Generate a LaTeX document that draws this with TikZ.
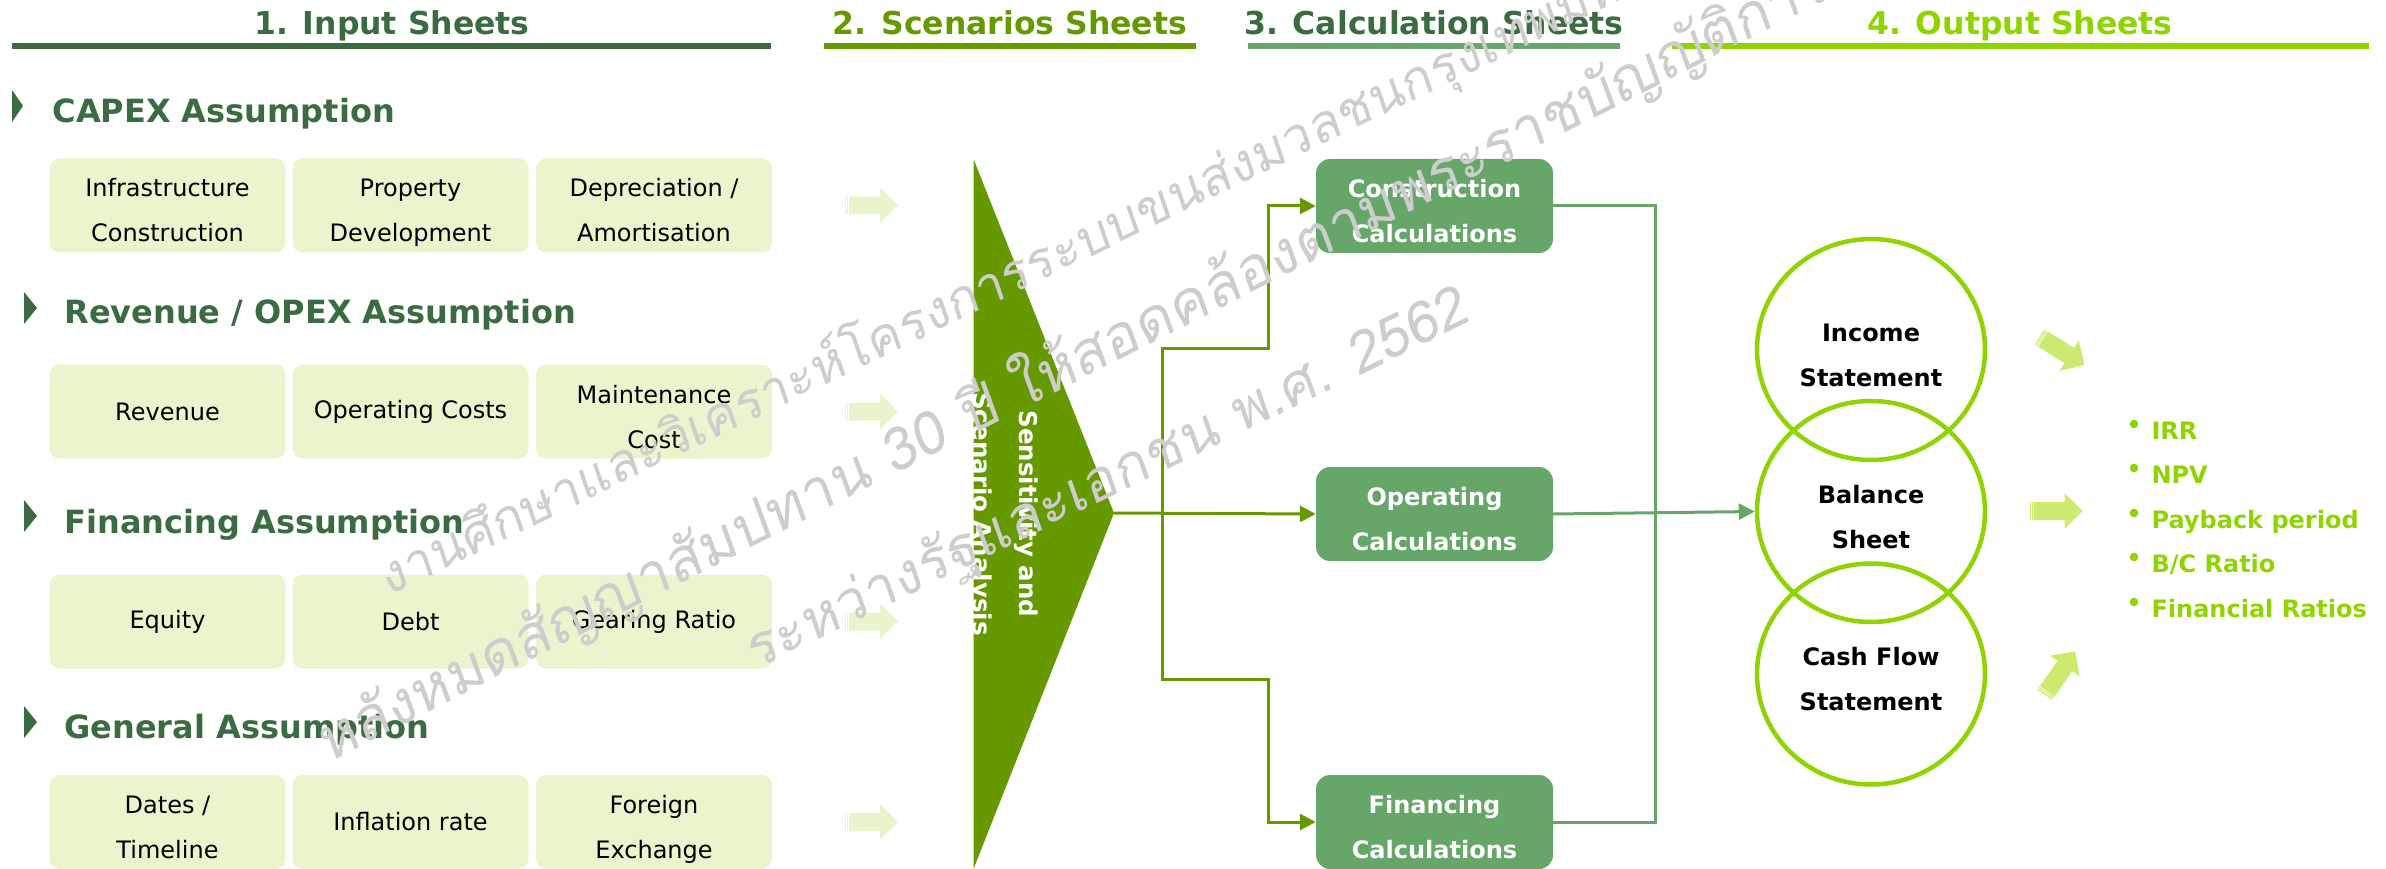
\documentclass[tikz,border=0pt]{standalone}
\usepackage{fontspec}
\setmainfont{DejaVu Sans}
\newfontfamily\thaifont{Loma}[Script=Thai,FakeSlant=0.12]
\usepackage{xcolor}
\usetikzlibrary{shapes.geometric,arrows.meta}

\definecolor{inputgreen}{HTML}{3B6B40}
\definecolor{scenegreen}{HTML}{669900}
\definecolor{calcgreen}{HTML}{66A769}
\definecolor{outgreen}{HTML}{8FD400}
\definecolor{boxfill}{HTML}{EBF5CD}
\definecolor{arrowlite}{HTML}{E8F4CB}
\definecolor{arrowbright}{HTML}{CCEA70}
\definecolor{wmgray}{HTML}{CDCDCD}

\begin{document}
\begin{tikzpicture}[x=1pt, y=-1pt,
    heading/.style={anchor=base, font=\bfseries\fontsize{31.5}{36}\selectfont},
    sectionhead/.style={anchor=base west, text=inputgreen, font=\bfseries\fontsize{32}{36}\selectfont},
    inputbox/.style={fill=boxfill, rounded corners=10pt, minimum width=236pt, minimum height=94pt, align=center, font=\fontsize{24}{45}\selectfont},
    twoline/.style={text height=73pt, text depth=0pt},
    calcbox/.style={fill=calcgreen, rounded corners=14pt, minimum width=237pt, minimum height=94pt, align=center, text=white, font=\bfseries\fontsize{24}{45}\selectfont, twoline},
    outputring/.style={ellipse, draw=outgreen, line width=4.5pt, minimum width=228pt, minimum height=221pt, align=center, font=\bfseries\fontsize{24}{45}\selectfont, twoline},
    bullettext/.style={anchor=base west, text=outgreen, font=\bfseries\fontsize{24}{30}\selectfont},
    scenline/.style={draw=scenegreen, line width=3pt},
    calcline/.style={draw=calcgreen, line width=3pt},
    watermark/.style={anchor=base west, text=wmgray, font=\thaifont\fontsize{#1}{60}\selectfont},
    pics/blockarrow/.style={code={
        \fill[#1] (-26.5,-9) rectangle (-25.4,9);
        \fill[#1] (-24.4,-9) rectangle (-23.3,9);
        \fill[#1] (-22.3,-9) -- (8.5,-9) -- (8.5,-18) -- (26.5,0) -- (8.5,18) -- (8.5,9) -- (-22.3,9) -- cycle;
    }}]
    \useasboundingbox (0,0) rectangle (2386,869);

    \node[heading, text=inputgreen] (inputhead) at (392,35) {1. Input Sheets};
    \node[heading, text=scenegreen] (scenhead) at (1010,35) {2. Scenarios Sheets};
    \node[heading, text=inputgreen] (calchead) at (1434,35) {3. Calculation Sheets};
    \node[heading, text=outgreen] (outhead) at (2020,35) {4. Output Sheets};
    \draw[inputgreen, line width=6pt] (12,46) -- (771,46);
    \draw[scenegreen, line width=6pt] (824,46) -- (1196,46);
    \draw[calcgreen, line width=6pt] (1248,46) -- (1620,46);
    \draw[outgreen, line width=6pt] (1672,46) -- (2369,46);

    \fill[inputgreen] (12,90) -- (23,106) -- (12,122) -- cycle;
    \node[sectionhead] (capex) at (49,123) {CAPEX Assumption};
    \fill[inputgreen] (24,292) -- (37,308) -- (24,324) -- cycle;
    \node[sectionhead] (revenue) at (61,323) {Revenue / OPEX Assumption};
    \fill[inputgreen] (24,500) -- (37,516) -- (24,532) -- cycle;
    \node[sectionhead] (financing) at (61,533) {Financing Assumption};
    \fill[inputgreen] (24,706) -- (37,722) -- (24,738) -- cycle;
    \node[sectionhead] (general) at (61,738) {General Assumption};

    \node[inputbox, twoline] (infra) at (167.5,205.5) {Infrastructure\\Construction};
    \node[inputbox, twoline] (property) at (410.5,205.5) {Property\\Development};
    \node[inputbox, twoline] (deprec) at (654,205.5) {Depreciation /\\Amortisation};
    \node[inputbox] (rev) at (167.5,411.5) {Revenue};
    \node[inputbox] (opcost) at (410.5,411.5) {Operating Costs};
    \node[inputbox, twoline] (maint) at (654,411.5) {Maintenance\\Cost};
    \node[inputbox] (equity) at (167.5,621.5) {Equity};
    \node[inputbox] (debt) at (410.5,621.5) {Debt};
    \node[inputbox] (gearing) at (654,621.5) {Gearing Ratio};
    \node[inputbox, twoline] (dates) at (167.5,822) {Dates /\\Timeline};
    \node[inputbox] (inflation) at (410.5,822) {Inflation rate};
    \node[inputbox, twoline] (forex) at (654,822) {Foreign\\Exchange};

    \pic at (871.5,205.5) {blockarrow=arrowlite};
    \pic at (871.5,411.5) {blockarrow=arrowlite};
    \pic at (871.5,621.5) {blockarrow=arrowlite};
    \pic at (871.5,822) {blockarrow=arrowlite};

    \coordinate (scen) at (1114,513);
    \fill[scenegreen] (973.5,159) -- (scen) -- (973.5,869) -- cycle;
    \node[rotate=-90, align=center, text=white, font=\bfseries\fontsize{24.5}{46}\selectfont] (scentext) at (1003,514) {Sensitivity and\\Scenario Analysis};

    \node[calcbox] (constr) at (1434.5,206) {Construction\\Calculations};
    \node[calcbox] (oper) at (1434.5,514) {Operating\\Calculations};
    \node[calcbox] (fin) at (1434.5,822) {Financing\\Calculations};

    \coordinate (fork) at (1162,514);
    \coordinate (stepup) at (1268,348);
    \coordinate (stepdown) at (1268,679);
    \draw[scenline, -{Triangle[length=16pt,width=16pt]}] (scen) -- (oper.west);
    \draw[scenline, -{Triangle[length=16pt,width=16pt]}] (fork) |- (stepup) |- (constr.west);
    \draw[scenline, -{Triangle[length=16pt,width=16pt]}] (fork) |- (stepdown) |- (fin.west);

    \node[outputring] (income) at (1871,349.5) {Income\\Statement};
    \node[outputring] (balance) at (1871,511.5) {Balance\\Sheet};
    \node[outputring] (cashflow) at (1871,674) {Cash Flow\\Statement};

    \coordinate (busbottom) at (1655,822);
    \draw[calcline] (constr.east) -| (busbottom) -- (fin.east);
    \draw[calcline, -{Triangle[length=16pt,width=16pt]}] (oper.east) -- (balance.west);

    \pic[rotate=-32] at (2062,351) {blockarrow=arrowbright};
    \pic at (2056,511) {blockarrow=arrowbright};
    \pic[rotate=55] at (2060,673) {blockarrow=arrowbright};

    \fill[outgreen] (2134,424) circle[radius=4.3];
    \node[bullettext] (irr) at (2148,439) {IRR};
    \fill[outgreen] (2134,468) circle[radius=4.3];
    \node[bullettext] (npv) at (2148,483) {NPV};
    \fill[outgreen] (2134,513) circle[radius=4.3];
    \node[bullettext] (payback) at (2148,528) {Payback period};
    \fill[outgreen] (2134,557) circle[radius=4.3];
    \node[bullettext] (bcratio) at (2148,572) {B/C Ratio};
    \fill[outgreen] (2134,602) circle[radius=4.3];
    \node[bullettext] (ratios) at (2148,617) {Financial Ratios};

    \node[watermark=52, rotate=25.8] (wmone) at (385,598) {งานศึกษาและวิเคราะห์โครงการระบบขนส่งมวลชนกรุงเทพมหานคร};
    \node[watermark=59, rotate=27] (wmtwo) at (325,765) {หลังหมดสัญญาสัมปทาน 30 ปี ให้สอดคล้องตามพระราชบัญญัติการร่วมลงทุน};
    \node[watermark=57, rotate=26] (wmthree) at (752,672) {ระหว่างรัฐและเอกชน พ.ศ. 2562};
\end{tikzpicture}
\end{document}
